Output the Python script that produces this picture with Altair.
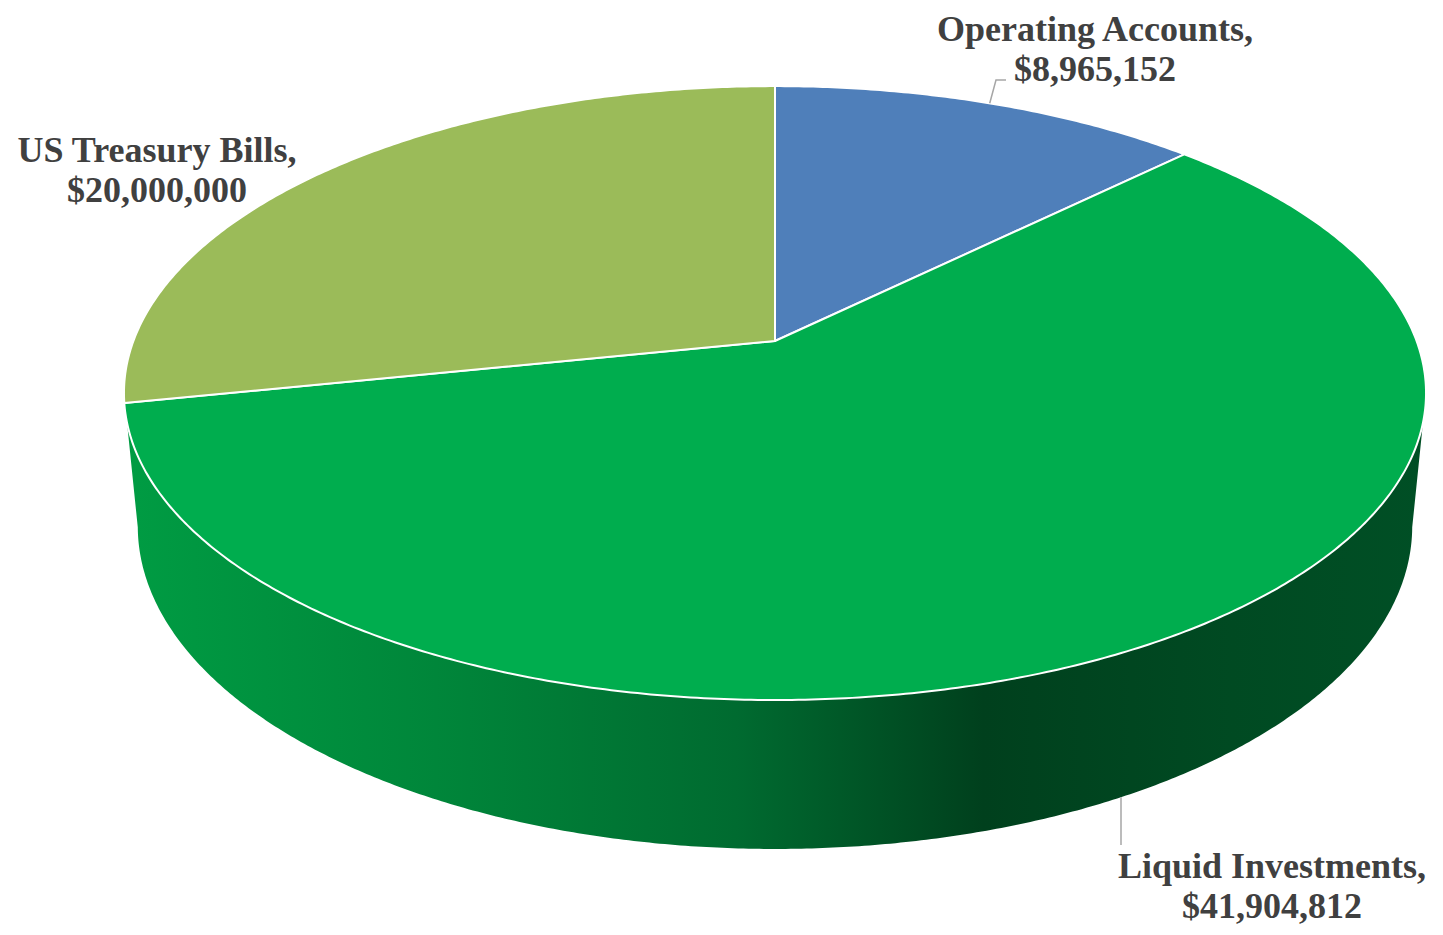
import math
import altair as alt
import pandas as pd

# ---------------- data ----------------
categories = ["Operating Accounts", "Liquid Investments", "US Treasury Bills"]
values = [8965152, 41904812, 20000000]
slice_colors = ["#4F7FBA", "#00AD4E", "#9BBB59"]

# ---------------- layout / style ----------------
W, H = 1427, 919          # plot area (page pixels minus 8px margins)
OX, OY = 8, 8             # page margin offset
CX, CY = 775, 341         # projected pie centre
R = 0.19155               # pie radius (camera units)
TILT = math.radians(27.69)
F = 3349.5                # focal scale
THICK = 0.0453            # pie thickness
label_pos = {             # label anchor (centre x, first baseline y)
    "Operating Accounts": (1095, 41),
    "US Treasury Bills": (157, 162),
    "Liquid Investments": (1272, 878),
}
side_stops = [(0.0, "#009C43"), (0.24, "#00863A"), (0.47, "#006B30"),
              (0.66, "#00401D"), (0.85, "#004A22"), (1.0, "#004F25")]


def project(t_deg, level):
    t = math.radians(t_deg)
    X, Z, Y = R * math.cos(t), R * math.sin(t), level
    up = Z * math.sin(TILT) + Y * math.cos(TILT)
    depth = 1 + Z * math.cos(TILT) - Y * math.sin(TILT)
    return CX + F * X / depth, CY - F * up / depth


total = sum(values)
slice_rows = []
mids = {}
start = 90.0
for cat, v in zip(categories, values):
    span = v / total * 360.0
    mids[cat] = start - span / 2
    pts = [(CX, CY)]
    n = max(int(span * 2), 4)
    for i in range(n + 1):
        pts.append(project(start - span * i / n, 0))
    for j, (x, y) in enumerate(pts):
        slice_rows.append({"category": cat, "order": j, "x": x, "y": y})
    start -= span
slices = pd.DataFrame(slice_rows)

# visible side wall between the two silhouette tangents
k = R * math.cos(TILT)
t_right = -math.degrees(math.asin(k))
t_left = -180 + math.degrees(math.asin(k))
side_rows = []
m = 400
for i in range(m + 1):
    t = t_left + (t_right - t_left) * i / m
    x, y = project(t, 0)
    side_rows.append({"order": i, "x": x, "y": y})
for i in range(m + 1):
    t = t_right - (t_right - t_left) * i / m
    x, y = project(t, -THICK)
    side_rows.append({"order": m + 1 + i, "x": x, "y": y})
side = pd.DataFrame(side_rows)

# labels
labels = pd.DataFrame([
    {"category": c, "text": f"{c},\n${v:,}", "x": label_pos[c][0], "y": label_pos[c][1]}
    for c, v in zip(categories, values)
])

# leader lines (from slice edge at mid-angle to the label)
op_start = project(mids["Operating Accounts"], 0)
liq_start = project(mids["Liquid Investments"], -THICK)
leaders = pd.DataFrame([
    {"g": "op", "order": 0, "x": op_start[0], "y": op_start[1]},
    {"g": "op", "order": 1, "x": 996, "y": 80},
    {"g": "op", "order": 2, "x": 1006, "y": 80},
    {"g": "liq", "order": 0, "x": liq_start[0], "y": liq_start[1]},
    {"g": "liq", "order": 1, "x": liq_start[0], "y": 845},
])

xs = alt.X("x:Q", scale=alt.Scale(domain=[OX, OX + W], nice=False, zero=False), axis=None)
ys = alt.Y("y:Q", scale=alt.Scale(domain=[OY + H, OY], nice=False, zero=False), axis=None)

side_layer = alt.Chart(side).mark_line(
    filled=True, interpolate="linear-closed", strokeWidth=0,
    fill=alt.Gradient(gradient="linear", x1=0, x2=1, y1=0, y2=0,
                      stops=[alt.GradientStop(offset=o, color=c) for o, c in side_stops]),
).encode(x=xs, y=ys, order="order:Q")

top_layer = alt.Chart(slices).mark_line(
    filled=True, interpolate="linear-closed", stroke="white", strokeWidth=2, strokeJoin="round"
).encode(
    x=xs, y=ys, order="order:Q",
    color=alt.Color("category:N", scale=alt.Scale(domain=categories, range=slice_colors), legend=None),
    detail="category:N",
)

leader_layer = alt.Chart(leaders).mark_line(color="#A6A6A6", strokeWidth=1.5).encode(
    x=xs, y=ys, order="order:Q", detail="g:N"
)

text_layer = alt.Chart(labels).mark_text(
    font="Liberation Serif", fontWeight="bold", fontSize=36, color="#404040",
    lineBreak="\n", lineHeight=40, align="center", baseline="alphabetic",
).encode(x=xs, y=ys, text="text:N")

chart = alt.layer(side_layer, top_layer, leader_layer, text_layer).properties(
    width=W, height=H, padding=0, autosize=alt.AutoSizeParams(type="none")
).configure_view(stroke=None)

chart.save("out.html", embed_options={"renderer": "svg", "actions": False})
